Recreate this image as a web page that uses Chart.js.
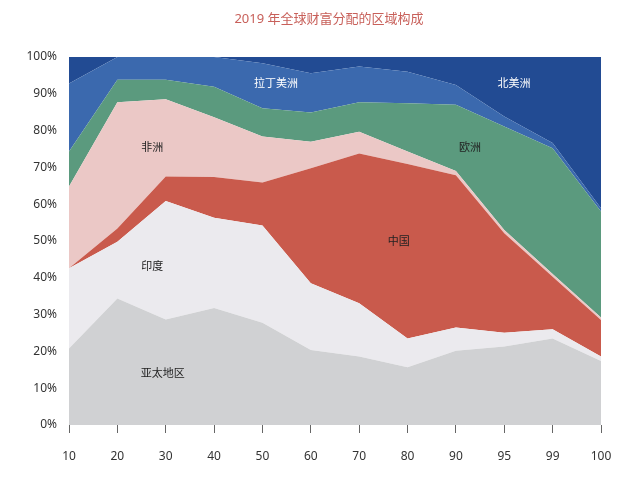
<!DOCTYPE html>
<html>
<head>
<meta charset="utf-8">
<script src="https://cdn.jsdelivr.net/npm/chart.js@4"></script>
<style>
  html, body { margin: 0; padding: 0; background: #fff; }
  #wrap { width: 640px; height: 478px; }
</style>
</head>
<body>
<div id="wrap"><canvas id="chart" width="640" height="478"></canvas></div>
<script>
// wealth percentile groups (x axis)
const percentiles = ["10", "20", "30", "40", "50", "60", "70", "80", "90", "95", "99", "100"];

// share of each region per percentile group (%)
const asiaPacific  = [20.8, 34.4, 28.7, 31.8, 27.8, 20.4, 18.6, 15.7, 20.2, 21.3, 23.5, 17.4];
const india        = [21.8, 15.4, 32.2, 24.5, 26.4, 18.1, 14.5, 7.8, 6.3, 3.8, 2.5, 1.2];
const china        = [0, 3.6, 6.6, 11.1, 11.7, 31.3, 40.7, 47.4, 41.4, 27.0, 14.3, 9.9];
const africa       = [22.2, 34.3, 21.0, 16.2, 12.5, 7.2, 5.9, 3.4, 1.1, 0.9, 0.7, 0.7];
const europe       = [9.5, 6.1, 5.3, 8.3, 7.7, 7.9, 8.0, 13.1, 18.0, 28.1, 34.2, 28.8];
const latinAmerica = [18.5, 6.2, 6.2, 8.1, 12.2, 10.7, 9.7, 8.6, 5.4, 2.7, 1.4, 0.9];
const northAmerica = [7.2, 0, 0, 0, 1.7, 4.4, 2.6, 4.0, 7.6, 16.2, 23.4, 41.1];

const regionNames = ["亚太地区", "印度", "中国", "非洲", "欧洲", "拉丁美洲", "北美洲"];
const regionColors = ["#d0d1d3", "#ebeaee", "#c95a4c", "#ebc8c6", "#5b9a7e", "#3b69ae", "#224b93"];
const yTicks = [0, 10, 20, 30, 40, 50, 60, 70, 80, 90, 100];
const titleText = "2019 年全球财富分配的区域构成";

// where the region names sit, in (category index, percent)
const labelSpots = [
  { name: "亚太地区", at: [1.94, 13.9], color: "#222" },
  { name: "印度",     at: [1.72, 42.9], color: "#222" },
  { name: "中国",     at: [6.82, 49.7], color: "#222" },
  { name: "非洲",     at: [1.72, 75.3], color: "#222" },
  { name: "欧洲",     at: [8.29, 75.3], color: "#222" },
  { name: "拉丁美洲", at: [4.28, 92.7], color: "#fff" },
  { name: "北美洲",   at: [9.20, 92.7], color: "#fff" }
];

const FONT = "'Noto Sans', 'Noto Sans CJK SC', sans-serif";
const series = [asiaPacific, india, china, africa, europe, latinAmerica, northAmerica];

const datasets = series.map((vals, i) => ({
  label: regionNames[i],
  data: vals,
  backgroundColor: regionColors[i],
  borderColor: regionColors[i],
  borderWidth: 0,
  pointRadius: 0,
  tension: 0,
  fill: i === 0 ? "origin" : "-1"
}));

/* title + region names inside the areas */
const regionLabels = {
  id: "regionLabels",
  afterDatasetsDraw(chart) {
    const { ctx, scales } = chart;
    ctx.save();
    ctx.textAlign = "center";
    ctx.textBaseline = "middle";
    ctx.font = "13px " + FONT;
    ctx.fillStyle = "#c8605a";
    ctx.fillText(titleText, 329, 19);
    ctx.font = "11px " + FONT;
    labelSpots.forEach(s => {
      ctx.fillStyle = s.color;
      ctx.fillText(s.name, scales.x.getPixelForValue(s.at[0]), scales.y.getPixelForValue(s.at[1]));
    });
    ctx.restore();
  }
};

new Chart(document.getElementById("chart"), {
  type: "line",
  data: { labels: percentiles, datasets },
  options: {
    responsive: false,
    animation: false,
    layout: { padding: { left: 0, right: 39, top: 57, bottom: 0 } },
    plugins: {
      legend: { display: false },
      tooltip: { enabled: false },
      title: { display: false }
    },
    scales: {
      x: {
        offset: false,
        grid: { display: true, drawOnChartArea: false, drawTicks: true, tickLength: 8, color: "#666" },
        border: { display: false },
        ticks: { color: "#333", padding: 16, font: { family: FONT, size: 12 }, maxRotation: 0, autoSkip: false },
        afterFit(scale) { scale.height = 53; }
      },
      y: {
        stacked: true,
        min: 0,
        max: 100,
        afterBuildTicks(scale) { scale.ticks = yTicks.map(v => ({ value: v })); },
        grid: { display: false, drawTicks: false },
        border: { display: false },
        ticks: {
          color: "#333",
          padding: 12,
          font: { family: FONT, size: 12 },
          callback: v => v + "%"
        },
        afterFit(scale) { scale.width = 69; }
      }
    }
  },
  plugins: [regionLabels]
});
</script>
</body>
</html>
